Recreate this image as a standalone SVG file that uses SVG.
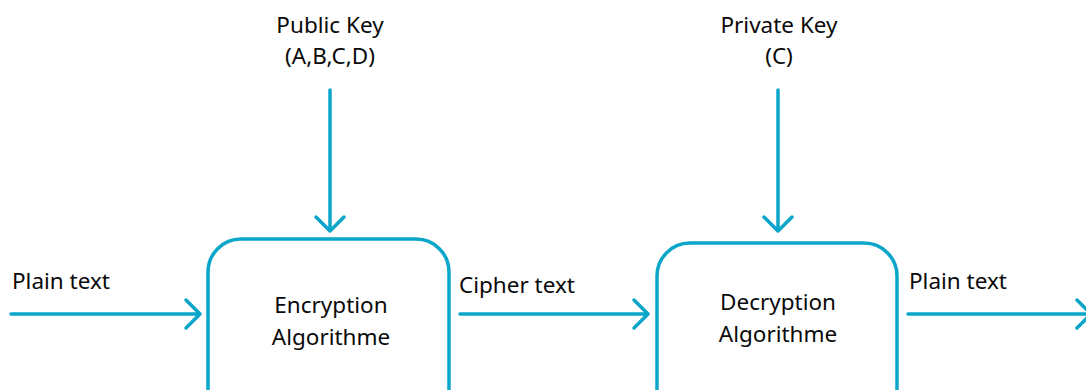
<svg xmlns="http://www.w3.org/2000/svg" width="1086" height="390" viewBox="0 0 1086 390">
  <style>
    .box { fill: #ffffff; stroke: #0aa6c9; stroke-width: 3.5; }
    .link { fill: none; stroke: #0aa6c9; stroke-width: 3.5; stroke-linecap: round; }
    .head { fill: none; stroke: #0aa6c9; stroke-width: 3.5; stroke-linecap: round; stroke-linejoin: round; }
    text { font-family: "Noto Sans", "Open Sans", sans-serif; font-size: 22.5px; fill: #0a0a0a; }
    .c { text-anchor: middle; }
  </style>
  <rect width="1086" height="390" fill="#ffffff"/>

  <g id="connectors">
    <!-- public key into encryption -->
    <line class="link" x1="330" y1="90" x2="330" y2="230"/>
    <polyline class="head" points="316,217 330,231 344,217"/>
    <!-- private key into decryption -->
    <line class="link" x1="778" y1="90" x2="778" y2="230"/>
    <polyline class="head" points="764,217 778,231 792,217"/>
    <!-- plain text in -->
    <line class="link" x1="11" y1="314" x2="199" y2="314"/>
    <polyline class="head" points="186,300 200,314 186,328"/>
    <!-- cipher text -->
    <line class="link" x1="460" y1="314" x2="647" y2="314"/>
    <polyline class="head" points="634,300 648,314 634,328"/>
    <!-- plain text out -->
    <line class="link" x1="908" y1="314" x2="1088" y2="314"/>
    <polyline class="head" points="1077,300 1091,314 1077,328"/>
  </g>

  <g id="public-key">
    <text class="c" x="330" y="33">Public Key</text>
    <text class="c" x="330" y="64">(A,B,C,D)</text>
  </g>
  <g id="private-key">
    <text class="c" x="779" y="33">Private Key</text>
    <text class="c" x="779" y="64">(C)</text>
  </g>

  <g id="encryption">
    <rect class="box" x="208" y="239" width="241" height="200" rx="33"/>
    <text class="c" x="331" y="313">Encryption</text>
    <text class="c" x="331" y="345">Algorithme</text>
  </g>
  <g id="decryption">
    <rect class="box" x="657" y="243" width="240" height="200" rx="33"/>
    <text class="c" x="778" y="310">Decryption</text>
    <text class="c" x="778" y="342">Algorithme</text>
  </g>

  <g id="labels">
    <text x="12" y="289">Plain text</text>
    <text x="459" y="293">Cipher text</text>
    <text x="909" y="289">Plain text</text>
  </g>
</svg>
